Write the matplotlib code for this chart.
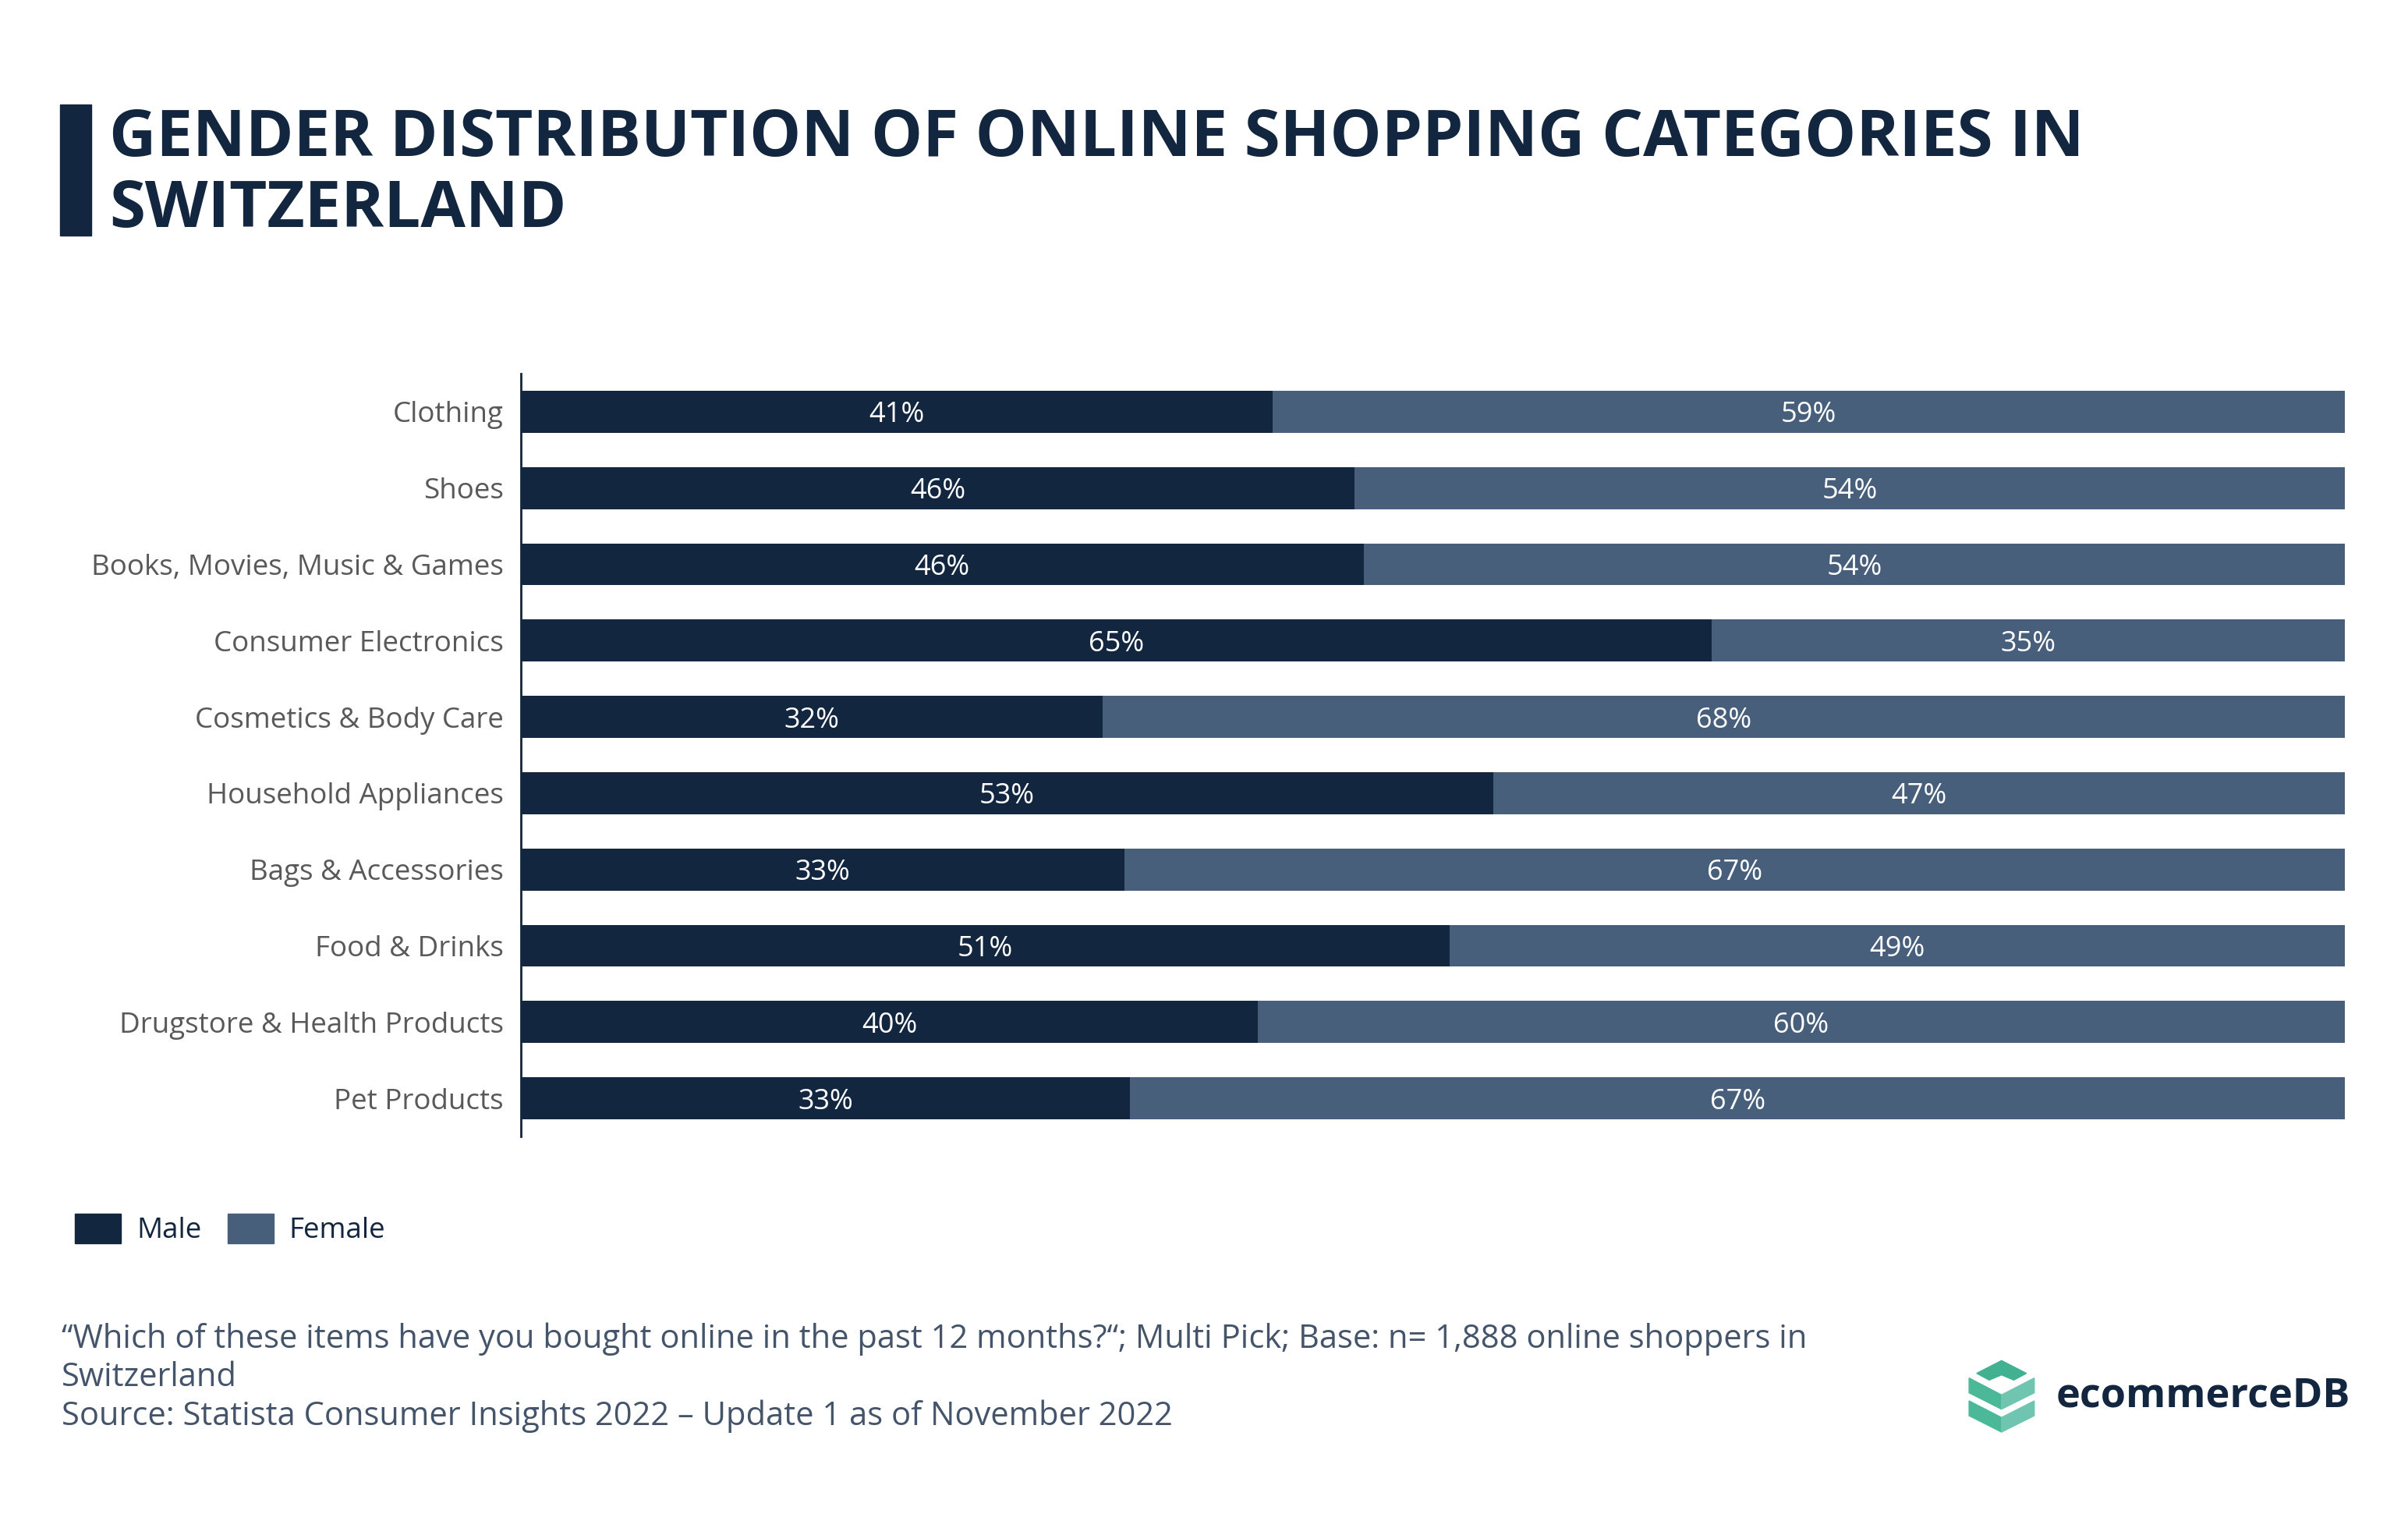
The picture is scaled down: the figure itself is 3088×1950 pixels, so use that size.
import matplotlib.pyplot as plt
from matplotlib.patches import Rectangle, Polygon

plt.rcParams['font.family'] = ['Open Sans', 'DejaVu Sans']

categories = ["Clothing", "Shoes", "Books, Movies, Music & Games", "Consumer Electronics",
              "Cosmetics & Body Care", "Household Appliances", "Bags & Accessories",
              "Food & Drinks", "Drugstore & Health Products", "Pet Products"]
male = [0.412, 0.457, 0.462, 0.653, 0.319, 0.533, 0.331, 0.509, 0.404, 0.334]
female = [1 - m for m in male]

NAVY = "#13263f"
SLATE = "#475f7b"
W, H = 3088, 1950

fig = plt.figure(figsize=(W / 100, H / 100), dpi=100)
ax = fig.add_axes([668 / W, 1 - 1457 / H, (3007 - 668) / W, (1457 - 479) / H])

y = list(range(len(categories)))
ax.barh(y, male, height=0.55, color=NAVY, label="Male")
ax.barh(y, female, left=male, height=0.55, color=SLATE, label="Female")

for i in y:
    ax.text(male[i] / 2, i, f"{male[i]*100:.0f}%", ha="center", va="center_baseline",
            color="white", fontsize=26)
    ax.text(male[i] + female[i] / 2, i, f"{female[i]*100:.0f}%", ha="center", va="center_baseline",
            color="white", fontsize=26)

ax.set_xlim(0, 1)
ax.set_ylim(len(categories) - 0.5, -0.5)
ax.set_yticks(y)
ax.set_yticklabels(categories, fontsize=26.5, color="#595959")
ax.set_xticks([])
ax.tick_params(axis="y", length=0, pad=16)
for s in ["top", "right", "bottom"]:
    ax.spines[s].set_visible(False)
ax.spines["left"].set_color(NAVY)
ax.spines["left"].set_linewidth(2)

# title with accent bar
fig.patches.append(Rectangle((77 / W, 1 - 302 / H), 40 / W, 168 / H,
                             transform=fig.transFigure, color=NAVY))
fig.text(140 / W, 1 - 224 / H, "GENDER DISTRIBUTION OF ONLINE SHOPPING CATEGORIES IN\nSWITZERLAND",
         fontsize=60, fontweight="bold", color=NAVY, va="center", ha="left", linespacing=1.12)

# legend
handles = [Rectangle((0, 0), 1, 1, color=NAVY), Rectangle((0, 0), 1, 1, color=SLATE)]
fig.legend(handles, ["Male", "Female"], loc="center left", bbox_to_anchor=(63 / W, 1 - 1576 / H),
           ncol=2, frameon=False, fontsize=26.5, handlelength=1.6, handleheight=1.2,
           handletextpad=0.55, columnspacing=0.9, labelcolor=NAVY)

# footer
fig.text(79 / W, 1 - 1766 / H,
         "\u201cWhich of these items have you bought online in the past 12 months?\u201c; Multi Pick; Base: n= 1,888 online shoppers in\n"
         "Switzerland\nSource: Statista Consumer Insights 2022 \u2013 Update 1 as of November 2022",
         fontsize=30, color="#44546a", va="center", ha="left", linespacing=1.22)

# logo
def zp(pts):
    return [((2500 + zx / 2.667) / W, 1 - (1720 + zy / 3) / H) for zx, zy in pts]

logo = [
    ([(93, 122), (178, 73), (263, 122), (220, 148), (178, 128), (136, 148)], "#42b192"),
    ([(67, 140), (178, 205), (178, 260), (67, 197)], "#4bb998"),
    ([(178, 205), (290, 140), (290, 197), (178, 260)], "#70c5b0"),
    ([(67, 228), (178, 292), (178, 348), (67, 285)], "#4bb998"),
    ([(178, 292), (290, 228), (290, 285), (178, 348)], "#70c5b0"),
]
for pts, c in logo:
    fig.patches.append(Polygon(zp(pts), closed=True, transform=fig.transFigure, color=c))
fig.text(2637 / W, 1 - 1790 / H, "ecommerceDB", fontsize=37.5, fontweight="bold",
         color=NAVY, va="center", ha="left")

fig.savefig("out.png", dpi=100, facecolor="white")
